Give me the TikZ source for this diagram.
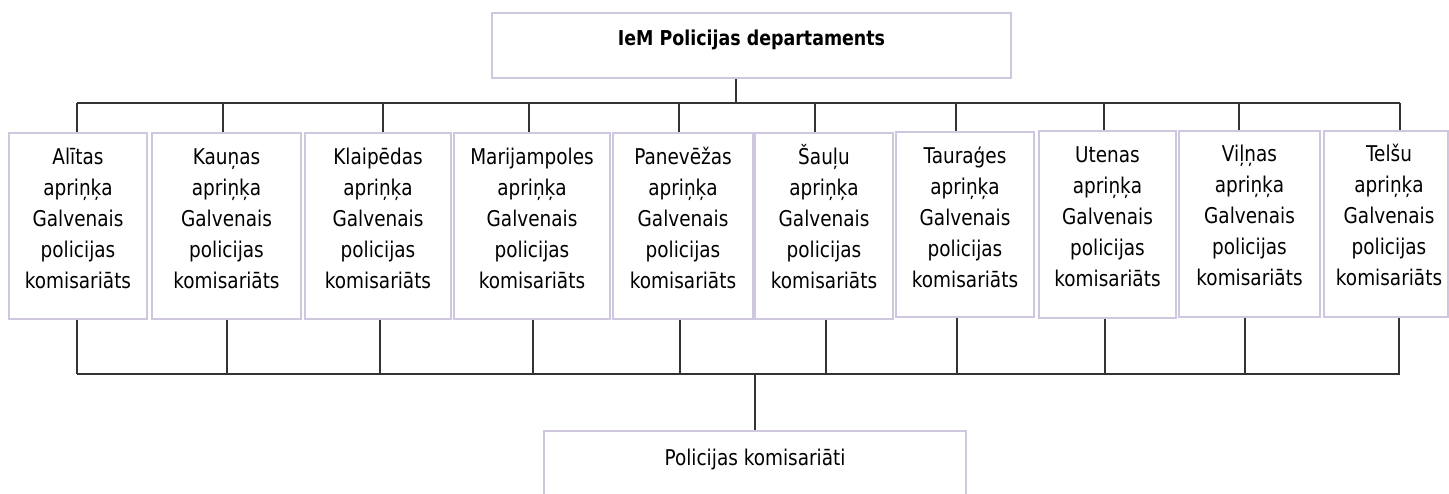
\documentclass[tikz,border=0pt]{standalone}
\usepackage{fontspec}
\setmainfont{DejaVu Sans}[FakeStretch=0.85]
\definecolor{boxc}{HTML}{CFC6DF}
\definecolor{linec}{HTML}{333333}
\newcommand{\bxt}[2]{\raisebox{#1}[\height][\depth]{\begin{tabular}{@{}c@{}}#2\end{tabular}}}
\begin{document}
\begin{tikzpicture}[x=1pt,y=-1pt,
  box/.style={draw=boxc, line width=2pt, fill=white, inner sep=0pt,
    minimum height=186pt, font=\fontsize{21.7}{31}\selectfont},
  conn/.style={draw=linec, line width=1.3pt}]
\path[use as bounding box] (0,0) rectangle (1449,493);
\clip (0,0) rectangle (1449,493);

% top box
\node[box, minimum width=519pt, minimum height=65pt, font=\fontsize{20.5}{28}\selectfont\bfseries] (top) at (751.5,45.5) {\bxt{5.5pt}{IeM Policijas departaments}};

% district boxes
\node[box, minimum width=138pt] (A) at (78,226) {\bxt{6pt}{Alītas\\apriņķa\\Galvenais\\policijas\\komisariāts}};
\node[box, minimum width=149pt] (K) at (226.5,226) {\bxt{6pt}{Kauņas\\apriņķa\\Galvenais\\policijas\\komisariāts}};
\node[box, minimum width=146pt] (Kl) at (378,226) {\bxt{6pt}{Klaipēdas\\apriņķa\\Galvenais\\policijas\\komisariāts}};
\node[box, minimum width=156pt] (M) at (532,226) {\bxt{6pt}{Marijampoles\\apriņķa\\Galvenais\\policijas\\komisariāts}};
\node[box, minimum width=140pt] (P) at (683,226) {\bxt{6pt}{Panevēžas\\apriņķa\\Galvenais\\policijas\\komisariāts}};
\node[box, minimum width=138pt] (S) at (824,226) {\bxt{6pt}{Šauļu\\apriņķa\\Galvenais\\policijas\\komisariāts}};
\node[box, minimum width=138pt, minimum height=185pt] (T) at (965,224.5) {\bxt{5pt}{Tauraģes\\apriņķa\\Galvenais\\policijas\\komisariāts}};
\node[box, minimum width=137pt, minimum height=187pt] (U) at (1107.5,224.5) {\bxt{6pt}{Utenas\\apriņķa\\Galvenais\\policijas\\komisariāts}};
\node[box, minimum width=141pt] (V) at (1249.5,224) {\bxt{7pt}{Viļņas\\apriņķa\\Galvenais\\policijas\\komisariāts}};
\node[box, minimum width=124pt] (Te) at (1386,224) {\hspace*{6pt}\bxt{7pt}{Telšu\\apriņķa\\Galvenais\\policijas\\komisariāts}};

% bottom box (open at the bottom edge of the picture)
\node[box, anchor=north, minimum width=422pt, minimum height=120pt] (PK) at (755,430) {\bxt{32pt}{Policijas komisariāti}};

% top bus
\coordinate (busL) at (77,103);
\coordinate (busR) at (1400,103);
\draw[conn] ([xshift=-15.5pt]top.south) -- ([xshift=-15.5pt]top.south |- busL);
\draw[conn] (busL) -- (busR);
\foreach \n/\dx in {A/-1,K/-3.5,Kl/5,M/-3,P/-4,S/-9,T/-9,U/-3.5,V/-10.5,Te/14}{
  \draw[conn] ([xshift=\dx pt]\n.north) -- ([xshift=\dx pt]\n.north |- busL);
}

% bottom bus
\coordinate (bbL) at (77,374);
\coordinate (bbR) at (1400,374);
\draw[conn] (bbL) -- (bbR);
\foreach \n/\dx in {A/-1,K/0.5,Kl/2,M/1,P/-3,S/2,T/-8,U/-2.5,V/-4.5,Te/13}{
  \draw[conn] ([xshift=\dx pt]\n.south) -- ([xshift=\dx pt]\n.south |- bbL);
}
\draw[conn] (PK.north) -- (PK.north |- bbL);
\end{tikzpicture}
\end{document}
